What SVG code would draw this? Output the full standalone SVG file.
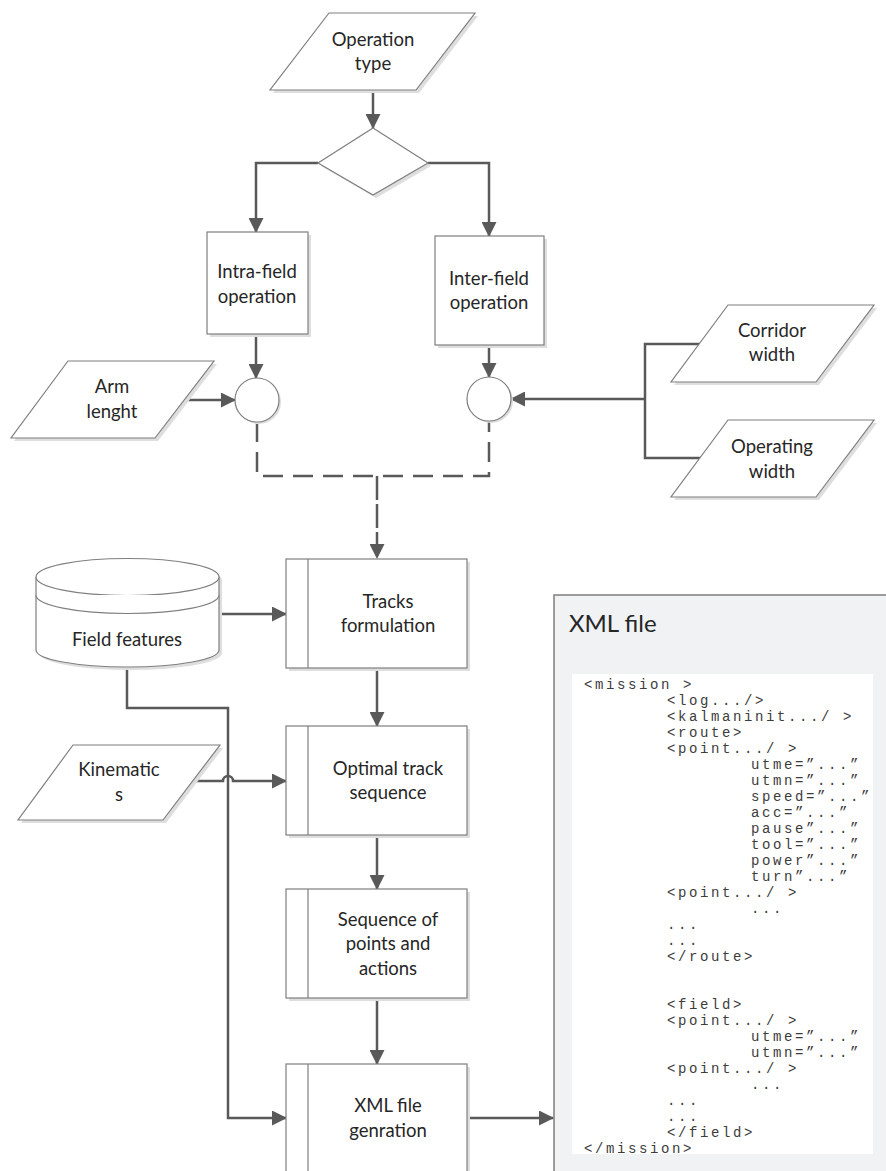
<svg xmlns="http://www.w3.org/2000/svg" width="886" height="1171" viewBox="0 0 886 1171">
<defs>
<marker id="arr" markerUnits="userSpaceOnUse" markerWidth="15" markerHeight="15" viewBox="0 0 15 15" refX="14" refY="7.5" orient="auto">
<path d="M0,0 L15,7.5 L0,15 Z" fill="#595959"/>
</marker>
</defs>
<style>
.sh{fill:#dedede;stroke:none}
.shape{fill:#fff;stroke:#7f7f7f;stroke-width:1.2}
.lbl{font-family:Lato,"Open Sans",sans-serif;font-size:18.5px;fill:#262626;text-anchor:middle}
.con{fill:none;stroke:#595959;stroke-width:2.5}
.arrow{marker-end:url(#arr)}
.dash{stroke-dasharray:20 10}
.code{font-family:"Liberation Mono","DejaVu Sans Mono",monospace;font-size:14px;letter-spacing:2.6px;fill:#3c3c3c}
</style>
<rect width="886" height="1171" fill="#fff"/>

<g id="xml-panel">
<rect x="554" y="595" width="340" height="590" fill="#f1f2f4" stroke="#7f7f7f" stroke-width="1.5"/>
<text x="569" y="632" font-family="Lato,'Open Sans',sans-serif" font-size="24" fill="#262626">XML file</text>
<rect x="572" y="674" width="301" height="480" fill="#fff"/>
<text class="code" x="584" y="689">&lt;mission &gt;</text>
<text class="code" x="667" y="705">&lt;log.../&gt;</text>
<text class="code" x="667" y="721">&lt;kalmaninit.../ &gt;</text>
<text class="code" x="667" y="737">&lt;route&gt;</text>
<text class="code" x="667" y="753">&lt;point.../ &gt;</text>
<text class="code" x="751" y="769">utme=”...”</text>
<text class="code" x="751" y="785">utmn=”...”</text>
<text class="code" x="751" y="801">speed=”...”</text>
<text class="code" x="751" y="817">acc=”...”</text>
<text class="code" x="751" y="833">pause”...”</text>
<text class="code" x="751" y="849">tool=”...”</text>
<text class="code" x="751" y="865">power”...”</text>
<text class="code" x="751" y="881">turn”...”</text>
<text class="code" x="667" y="897">&lt;point.../ &gt;</text>
<text class="code" x="751" y="913">...</text>
<text class="code" x="667" y="929">...</text>
<text class="code" x="667" y="945">...</text>
<text class="code" x="667" y="961">&lt;/route&gt;</text>
<text class="code" x="667" y="1009">&lt;field&gt;</text>
<text class="code" x="667" y="1025">&lt;point.../ &gt;</text>
<text class="code" x="751" y="1041">utme=”...”</text>
<text class="code" x="751" y="1057">utmn=”...”</text>
<text class="code" x="667" y="1073">&lt;point.../ &gt;</text>
<text class="code" x="751" y="1089">...</text>
<text class="code" x="667" y="1105">...</text>
<text class="code" x="667" y="1121">...</text>
<text class="code" x="667" y="1137">&lt;/field&gt;</text>
<text class="code" x="584" y="1153">&lt;/mission&gt;</text>
</g>

<g id="connectors">
<path class="con arrow" d="M373,90 L373,128"/>
<path class="con arrow" d="M318,163 L256,163 L256,232"/>
<path class="con arrow" d="M428,163 L489,163 L489,236"/>
<path class="con arrow" d="M256,334 L256,378"/>
<path class="con arrow" d="M489,345 L489,377"/>
<path class="con arrow" d="M185,400 L235,400"/>
<path class="con" d="M700,344 L645,344 L645,458 L700,458"/>
<path class="con arrow" d="M645,399 L511,399"/>
<path class="con dash" d="M257,422 L257,476 L489,476 L489,421"/>
<path class="con arrow" d="M377,476 L377,558" stroke-dasharray="24 4"/>
<path class="con arrow" d="M219,614 L286,614"/>
<path class="con arrow" d="M377,668 L377,726"/>
<path class="con arrow" d="M193,781 L223,781 A5,5 0 0 1 233,781 L286,781"/>
<path class="con arrow" d="M127,668 L127,708 L228,708 L228,1118 L286,1118"/>
<path class="con arrow" d="M377,835 L377,889"/>
<path class="con arrow" d="M377,998 L377,1064"/>
<path class="con arrow" d="M467,1118 L553,1118"/>
</g>

<g id="operation-type">
<polygon class="sh" points="332,16 478,16 419,93 273,93"/>
<polygon class="shape" points="329,13 475,13 416,90 270,90"/>
<text class="lbl" x="373" y="46">Operation</text>
<text class="lbl" x="373" y="70">type</text>
</g>

<g id="decision">
<polygon class="sh" points="376,131 431,166 376,198 321,166"/>
<polygon class="shape" points="373,128 428,163 373,195 318,163"/>
</g>

<g id="intra-field">
<rect class="sh" x="210" y="235" width="101" height="102"/>
<rect class="shape" x="207" y="232" width="101" height="102"/>
<text class="lbl" x="257" y="278">Intra-field</text>
<text class="lbl" x="257" y="303">operation</text>
</g>

<g id="inter-field">
<rect class="sh" x="438" y="239" width="109" height="109"/>
<rect class="shape" x="435" y="236" width="109" height="109"/>
<text class="lbl" x="489" y="285">Inter-field</text>
<text class="lbl" x="489" y="309">operation</text>
</g>

<g id="intra-junction">
<circle class="sh" cx="259" cy="402" r="22"/>
<circle class="shape" cx="257" cy="400" r="22"/>
</g>

<g id="inter-junction">
<circle class="sh" cx="491" cy="401" r="22"/>
<circle class="shape" cx="489" cy="399" r="22"/>
</g>

<g id="arm-length">
<polygon class="sh" points="71,364 217,364 158,441 14,441"/>
<polygon class="shape" points="68,361 214,361 155,438 11,438"/>
<text class="lbl" x="112" y="393">Arm</text>
<text class="lbl" x="112" y="418">lenght</text>
</g>

<g id="corridor-width">
<polygon class="sh" points="731,308 877,308 819,385 674,385"/>
<polygon class="shape" points="728,305 874,305 816,382 671,382"/>
<text class="lbl" x="772" y="337">Corridor</text>
<text class="lbl" x="772" y="361">width</text>
</g>

<g id="operating-width">
<polygon class="sh" points="731,423 877,423 819,500 674,500"/>
<polygon class="shape" points="728,420 874,420 816,497 671,497"/>
<text class="lbl" x="772" y="453">Operating</text>
<text class="lbl" x="772" y="478">width</text>
</g>

<g id="field-features">
<path class="sh" d="M39,580 A91.5,18.5 0 0 1 222,580 L222,653 A91.5,17 0 0 1 39,653 Z"/>
<path class="shape" d="M36,577 A91.5,18.5 0 0 1 219,577 L219,650 A91.5,17 0 0 1 36,650 Z"/>
<path class="shape" fill="none" d="M36,577 A91.5,18.5 0 0 0 219,577"/>
<path class="shape" fill="none" d="M36,595 A91.5,18.5 0 0 0 219,595"/>
<text class="lbl" x="127" y="646">Field features</text>
</g>

<g id="tracks-formulation">
<rect class="sh" x="289" y="562" width="181" height="109"/>
<rect class="shape" x="286" y="559" width="181" height="109"/>
<line class="shape" x1="308" y1="559" x2="308" y2="668"/>
<text class="lbl" x="388" y="608">Tracks</text>
<text class="lbl" x="388" y="632">formulation</text>
</g>

<g id="kinematics">
<polygon class="sh" points="76,748 223,748 166,823 21,823"/>
<polygon class="shape" points="73,745 220,745 163,820 18,820"/>
<text class="lbl" x="119" y="776">Kinematic</text>
<text class="lbl" x="119" y="801">s</text>
</g>

<g id="optimal-track">
<rect class="sh" x="289" y="729" width="181" height="109"/>
<rect class="shape" x="286" y="726" width="181" height="109"/>
<line class="shape" x1="308" y1="726" x2="308" y2="835"/>
<text class="lbl" x="388" y="775">Optimal track</text>
<text class="lbl" x="388" y="799">sequence</text>
</g>

<g id="sequence-points">
<rect class="sh" x="289" y="892" width="181" height="109"/>
<rect class="shape" x="286" y="889" width="181" height="109"/>
<line class="shape" x1="308" y1="889" x2="308" y2="998"/>
<text class="lbl" x="388" y="926">Sequence of</text>
<text class="lbl" x="388" y="950">points and</text>
<text class="lbl" x="388" y="975">actions</text>
</g>

<g id="xml-generation">
<rect class="sh" x="289" y="1067" width="181" height="120"/>
<rect class="shape" x="286" y="1064" width="181" height="120"/>
<line class="shape" x1="308" y1="1064" x2="308" y2="1184"/>
<text class="lbl" x="388" y="1112">XML file</text>
<text class="lbl" x="388" y="1137">genration</text>
</g>
</svg>
